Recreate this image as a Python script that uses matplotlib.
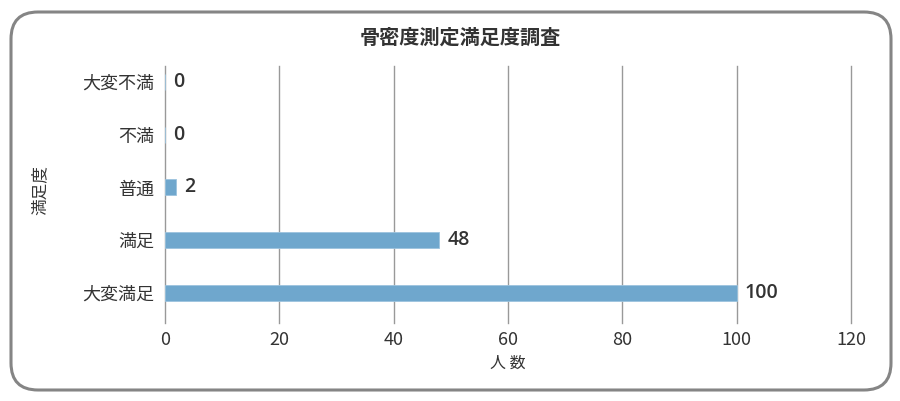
import matplotlib.pyplot as plt
from matplotlib.patches import FancyBboxPatch

plt.rcParams['font.family'] = ['Noto Sans CJK JP', 'DejaVu Sans']

categories = ["大変満足", "満足", "普通", "不満", "大変不満"]
counts = [100, 48, 2, 0, 0]
x_ticks = [0, 20, 40, 60, 80, 100, 120]

title = "骨密度測定満足度調査"
x_label = "人 数"
y_label = "満足度"

bar_color = "#6fa7cd"
text_color = "#333333"

fig = plt.figure(figsize=(9, 4.01), dpi=100)

# rounded frame around the whole chart
frame = FancyBboxPatch(
    (11 / 900, 11 / 401), 880 / 900, 378 / 401,
    boxstyle="round,pad=0,rounding_size=0.03",
    transform=fig.transFigure, facecolor="none",
    edgecolor="#858585", linewidth=2.2, mutation_aspect=900 / 401,
    zorder=5,
)
fig.patches.append(frame)

ax = fig.add_axes([165 / 900, 1 - 323 / 401, 686 / 900, 257 / 401])
ax.set_facecolor("none")

pos = list(range(len(categories)))
ax.barh(pos, counts, height=0.3, color=bar_color, edgecolor="#9cc3de",
        linewidth=0.6, zorder=3)

for p, v in zip(pos, counts):
    ax.text(v + 1.4, p, str(v), va="center", ha="left", fontsize=14,
            fontweight="semibold", family=["Open Sans", "DejaVu Sans"],
            color=text_color, zorder=4)

ax.set_xlim(0, 120)
ax.set_ylim(-0.57, 4.3)
ax.set_xticks(x_ticks)
ax.set_yticks(pos)
ax.set_yticklabels(categories)
ax.tick_params(axis="both", length=0, labelsize=13, colors=text_color)
ax.tick_params(axis="x", pad=6)
ax.tick_params(axis="y", pad=8)

ax.grid(axis="x", color="#999999", linewidth=1.0, zorder=0)
ax.grid(axis="y", visible=False)
for gl in ax.get_xgridlines():
    gl.set_clip_on(False)
for s in ax.spines.values():
    s.set_visible(False)

ax.set_xlabel(x_label, fontsize=11.5, color=text_color, labelpad=4)

fig.text(460 / 900, 1 - 37 / 401, title, ha="center", va="center",
         fontsize=14.5, fontweight="bold", color=text_color)
fig.text(40 / 900, 1 - 190 / 401, y_label, ha="center", va="center",
         rotation=90, fontsize=12, color=text_color)

fig.savefig("out.png", dpi=100)
